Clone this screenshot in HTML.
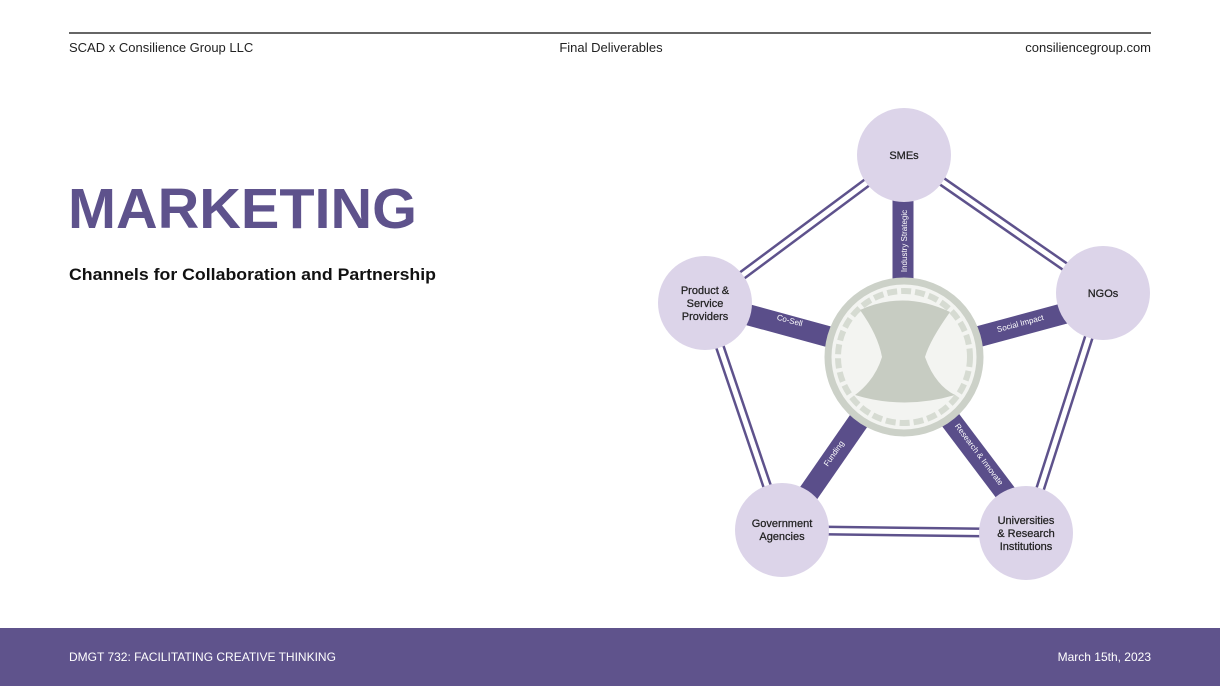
<!DOCTYPE html>
<html><head><meta charset="utf-8"><style>
html,body{margin:0;padding:0;background:#fff;}
body{width:1220px;height:686px;position:relative;overflow:hidden;font-family:"Liberation Sans",sans-serif;}
</style></head><body>
<svg width="1220" height="686" viewBox="0 0 1220 686" xmlns="http://www.w3.org/2000/svg" style="position:absolute;left:0;top:0">
<line x1="69" y1="33" x2="1151" y2="33" stroke="#333" stroke-width="1.5"/>
<text x="69" y="52" font-size="13" fill="#222" font-family="Liberation Sans">SCAD x Consilience Group LLC</text>
<text x="611" y="52" font-size="13" fill="#222" text-anchor="middle" font-family="Liberation Sans">Final Deliverables</text>
<text x="1151" y="52" font-size="13" fill="#222" text-anchor="end" font-family="Liberation Sans">consiliencegroup.com</text>
<text x="68" y="228" font-size="57" font-weight="bold" fill="#5e528c" textLength="349" lengthAdjust="spacingAndGlyphs" font-family="Liberation Sans">MARKETING</text>
<text x="69" y="280" font-size="17" font-weight="bold" fill="#111" textLength="367" lengthAdjust="spacingAndGlyphs" font-family="Liberation Sans">Channels for Collaboration and Partnership</text>
<rect x="0" y="628" width="1220" height="58" fill="#5f538c"/>
<text x="69" y="661" font-size="12" fill="#fff" font-family="Liberation Sans">DMGT 732: FACILITATING CREATIVE THINKING</text>
<text x="1151" y="661" font-size="12" fill="#fff" text-anchor="end" font-family="Liberation Sans">March 15th, 2023</text>

<g stroke-linecap="butt">
<g stroke="#5e528c" stroke-width="10">
<line x1="904" y1="155" x2="1103" y2="293"/><line x1="1103" y1="293" x2="1026" y2="533"/>
<line x1="1026" y1="533" x2="782" y2="530"/><line x1="782" y1="530" x2="705" y2="303"/>
<line x1="705" y1="303" x2="904" y2="155"/>
</g>
<g stroke="#fff" stroke-width="5">
<line x1="904" y1="155" x2="1103" y2="293"/><line x1="1103" y1="293" x2="1026" y2="533"/>
<line x1="1026" y1="533" x2="782" y2="530"/><line x1="782" y1="530" x2="705" y2="303"/>
<line x1="705" y1="303" x2="904" y2="155"/>
</g>
<g stroke="#5a4e8a" stroke-width="21">
<line x1="903" y1="357" x2="903" y2="155"/>
<line x1="903" y1="357" x2="1103" y2="303"/>
<line x1="903" y1="357" x2="705" y2="303"/>
<line x1="903" y1="357" x2="790" y2="520"/>
<line x1="903" y1="357" x2="1026" y2="520"/>
</g>
</g>
<g font-family="Liberation Sans" font-size="8" fill="#fff" text-anchor="middle">
<text transform="translate(907,241) rotate(-90)">Industry Strategic</text>
<text transform="translate(789,323) rotate(15)">Co-Sell</text>
<text transform="translate(1021,326) rotate(-15)">Social Impact</text>
<text transform="translate(836,455) rotate(-55)">Funding</text>
<text transform="translate(977,456) rotate(53)">Research &amp; Innovate</text>
</g>
<circle cx="904" cy="357" r="76" fill="#f3f4f1" stroke="#ccd1c8" stroke-width="7"/>
<circle cx="904" cy="357" r="66" fill="none" stroke="#d6dbd2" stroke-width="6" stroke-dasharray="10 4"/>
<path d="M860 310 Q904 290 950 312 Q930 340 925 357 Q935 385 955 395 Q904 410 855 395 Q875 380 882 357 Q878 335 860 310Z" fill="#c7ccc2"/>
<g fill="#dcd4e9">
<circle cx="904" cy="155" r="47"/><circle cx="1103" cy="293" r="47"/>
<circle cx="705" cy="303" r="47"/><circle cx="782" cy="530" r="47"/>
<circle cx="1026" cy="533" r="47"/>
</g>
<g font-family="Liberation Sans" font-size="11" fill="#222" text-anchor="middle" stroke="#222" stroke-width="0.25">
<text x="904" y="159">SMEs</text>
<text x="1103" y="297">NGOs</text>
<text x="705" y="294">Product &amp;</text><text x="705" y="307">Service</text><text x="705" y="320">Providers</text>
<text x="782" y="527">Government</text><text x="782" y="540">Agencies</text>
<text x="1026" y="524">Universities</text><text x="1026" y="537">&amp; Research</text><text x="1026" y="550">Institutions</text>
</g>
</svg>
</body></html>
